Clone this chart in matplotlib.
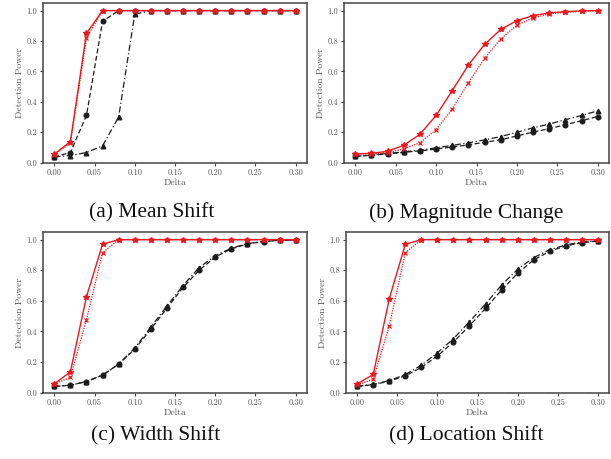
import numpy as np
from matplotlib import pyplot as plt

plt.rcParams['font.family'] = 'serif'
plt.rcParams['font.serif'] = ['cmr10', 'DejaVu Serif']
plt.rcParams['axes.formatter.use_mathtext'] = True

delta = [0.00, 0.02, 0.04, 0.06, 0.08, 0.10, 0.12, 0.14, 0.16, 0.18,
         0.20, 0.22, 0.24, 0.26, 0.28, 0.30]

# (a) Mean Shift
mean_red_solid = [0.055, 0.138, 0.85, 1.0, 1.0, 1.0, 1.0, 1.0, 1.0, 1.0, 1.0, 1.0, 1.0, 1.0, 1.0, 1.0]
mean_red_dot = [0.052, 0.127, 0.82, 1.0, 1.0, 1.0, 1.0, 1.0, 1.0, 1.0, 1.0, 1.0, 1.0, 1.0, 1.0, 1.0]
mean_blk_dash = [0.037, 0.066, 0.31, 0.93, 1.0, 1.0, 1.0, 1.0, 1.0, 1.0, 1.0, 1.0, 1.0, 1.0, 1.0, 1.0]
mean_blk_dashdot = [0.037, 0.046, 0.066, 0.11, 0.30, 0.976, 1.0, 1.0, 1.0, 1.0, 1.0, 1.0, 1.0, 1.0, 1.0, 1.0]

# (b) Magnitude Change
mag_red_solid = [0.057, 0.061, 0.074, 0.114, 0.186, 0.31, 0.474, 0.642, 0.777, 0.876,
                 0.934, 0.967, 0.985, 0.993, 0.998, 1.0]
mag_red_dot = [0.055, 0.058, 0.065, 0.09, 0.131, 0.216, 0.352, 0.526, 0.686, 0.814,
               0.904, 0.952, 0.978, 0.989, 0.996, 0.998]
mag_blk_dash = [0.04, 0.048, 0.057, 0.067, 0.077, 0.089, 0.102, 0.117, 0.133, 0.15,
                0.175, 0.2, 0.223, 0.249, 0.275, 0.303]
mag_blk_dashdot = [0.04, 0.05, 0.06, 0.07, 0.082, 0.097, 0.113, 0.13, 0.149, 0.171,
                   0.199, 0.229, 0.253, 0.282, 0.31, 0.34]

# (c) Width Shift
width_red_solid = [0.057, 0.135, 0.627, 0.97, 1.0, 1.0, 1.0, 1.0, 1.0, 1.0, 1.0, 1.0, 1.0, 1.0, 1.0, 1.0]
width_red_dot = [0.055, 0.10, 0.476, 0.915, 1.0, 1.0, 1.0, 1.0, 1.0, 1.0, 1.0, 1.0, 1.0, 1.0, 1.0, 1.0]
width_blk_dash = [0.04, 0.048, 0.072, 0.114, 0.186, 0.284, 0.415, 0.552, 0.688, 0.80,
                  0.886, 0.94, 0.972, 0.987, 0.996, 0.998]
width_blk_dashdot = [0.04, 0.048, 0.072, 0.114, 0.186, 0.29, 0.428, 0.566, 0.70, 0.817,
                     0.895, 0.944, 0.974, 0.988, 0.996, 0.998]

# (d) Location Shift
loc_red_solid = [0.057, 0.118, 0.614, 0.97, 1.0, 1.0, 1.0, 1.0, 1.0, 1.0, 1.0, 1.0, 1.0, 1.0, 1.0, 1.0]
loc_red_dot = [0.05, 0.087, 0.437, 0.915, 1.0, 1.0, 1.0, 1.0, 1.0, 1.0, 1.0, 1.0, 1.0, 1.0, 1.0, 1.0]
loc_blk_dash = [0.04, 0.052, 0.074, 0.11, 0.164, 0.24, 0.33, 0.437, 0.55, 0.67,
                0.78, 0.867, 0.924, 0.959, 0.98, 0.991]
loc_blk_dashdot = [0.04, 0.054, 0.078, 0.118, 0.179, 0.26, 0.352, 0.463, 0.579, 0.703,
                   0.806, 0.882, 0.934, 0.965, 0.985, 0.993]

panels = [
    ("(a) Mean Shift", mean_red_solid, mean_red_dot, mean_blk_dash, mean_blk_dashdot),
    ("(b) Magnitude Change", mag_red_solid, mag_red_dot, mag_blk_dash, mag_blk_dashdot),
    ("(c) Width Shift", width_red_solid, width_red_dot, width_blk_dash, width_blk_dashdot),
    ("(d) Location Shift", loc_red_solid, loc_red_dot, loc_blk_dash, loc_blk_dashdot),
]

W, H = 611, 459
# axes boxes in pixels: left, top, right, bottom
boxes = [(43, 3, 307, 163), (344, 3, 609, 163), (43, 232, 307, 393), (346, 232, 609, 393)]
caption_pos = [(152, 213), (466, 213), (156, 436), (466, 436)]

red = "#e8191f"
blk = "#1c1c1c"
spine_c = "#444444"
text_c = "#555555"

fig = plt.figure(figsize=(W / 100, H / 100), dpi=100)

for (title, rs, rd, bd, bdd), (l, t, r, b), (cx, cy) in zip(panels, boxes, caption_pos):
    ax = fig.add_axes([l / W, 1 - b / H, (r - l) / W, (b - t) / H])
    ax.plot(delta, bdd, color=blk, ls=(0, (5, 2, 1, 2)), lw=0.9, marker="^", ms=3.3)
    ax.plot(delta, bd, color=blk, ls=(0, (4, 2)), lw=0.9, marker="o", ms=3.3)
    ax.plot(delta, rd, color=red, ls=(0, (1, 1)), lw=0.9, marker="x", ms=3.2, mew=0.9)
    ax.plot(delta, rs, color=red, ls="-", lw=1.0, marker="*", ms=3.8)

    ax.set_xlim(-0.014, 0.314)
    ax.set_ylim(-0.003, 1.05)
    ax.set_xticks([0.0, 0.05, 0.10, 0.15, 0.20, 0.25, 0.30])
    ax.set_xticklabels(["0.00", "0.05", "0.10", "0.15", "0.20", "0.25", "0.30"])
    ax.set_yticks([0.0, 0.2, 0.4, 0.6, 0.8, 1.0])
    ax.set_yticklabels(["0.0", "0.2", "0.4", "0.6", "0.8", "1.0"])
    ax.tick_params(labelsize=6, length=2, width=0.8, colors=spine_c, labelcolor=text_c, pad=2)
    for s in ax.spines.values():
        s.set_color(spine_c)
        s.set_linewidth(1.1)
    ax.set_xlabel("Delta", fontsize=7, color=text_c, labelpad=1)
    ax.set_ylabel("Detection Power", fontsize=7, color=text_c, labelpad=2)

    fig.text(cx / W, 1 - cy / H, title, ha="center", va="center",
             fontsize=15.5, family="Liberation Serif", color="#111111")

plt.savefig("out.png", dpi=100)
